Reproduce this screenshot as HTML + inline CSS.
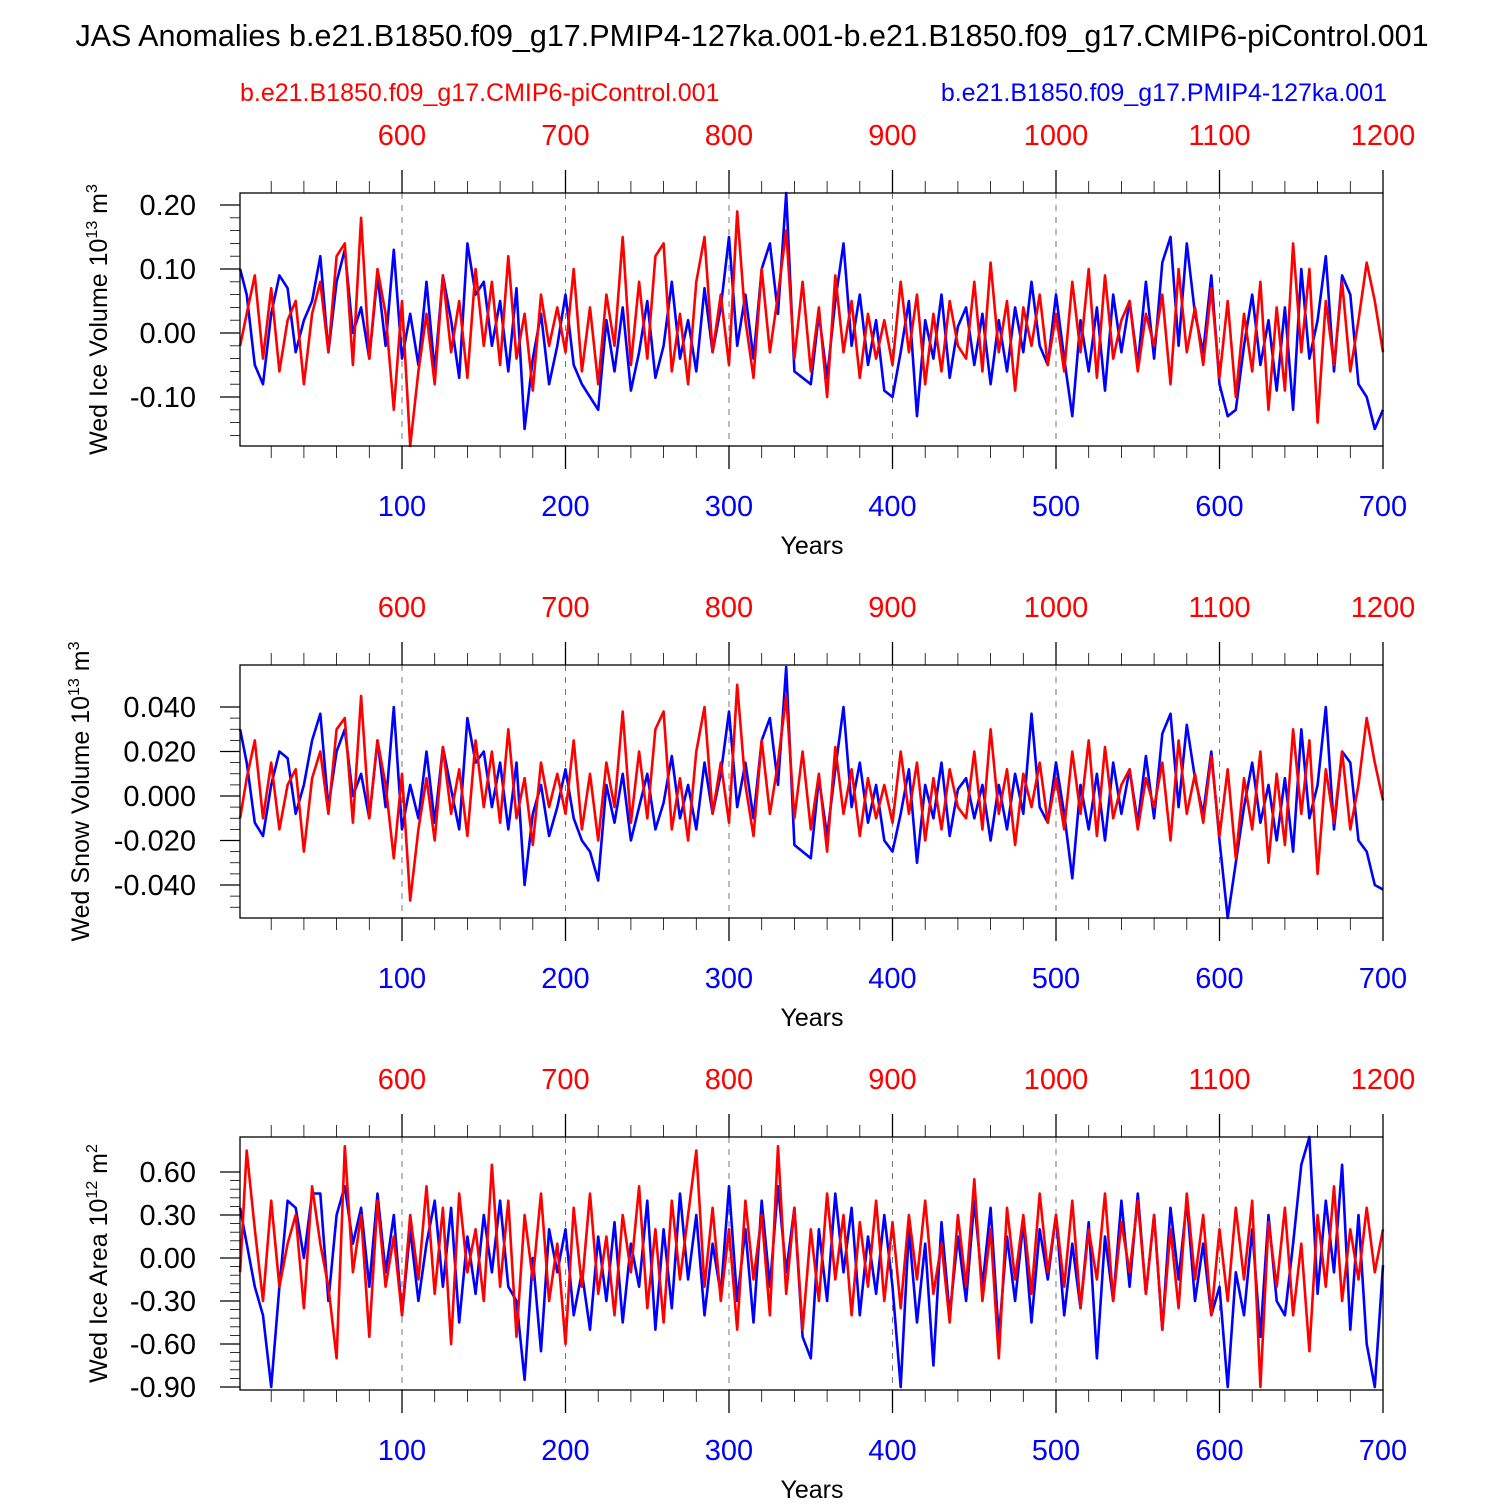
<!DOCTYPE html>
<html><head><meta charset="utf-8"><style>
body{margin:0;background:#fff}
svg{font-family:"Liberation Sans",sans-serif}
</style></head><body>
<svg id="chart" width="1500" height="1500" viewBox="0 0 1500 1500" xmlns="http://www.w3.org/2000/svg">
<text x="752" y="46" font-size="30.5" text-anchor="middle">JAS Anomalies b.e21.B1850.f09_g17.PMIP4-127ka.001-b.e21.B1850.f09_g17.CMIP6-piControl.001</text>
<text x="240" y="101" font-size="25" fill="#f00">b.e21.B1850.f09_g17.CMIP6-piControl.001</text>
<text x="1387" y="101" font-size="25" fill="#00f" text-anchor="end">b.e21.B1850.f09_g17.PMIP4-127ka.001</text>
</svg>
<script>
// values sampled every 5 years (blue axis years 0..700)
const step = 5;
const xTicksBlue = [100,200,300,400,500,600,700];
const xTicksRed = [600,700,800,900,1000,1100,1200];
const volBlue = [10,6,-5,-8,3,9,7,-3,2,5,
12,-3,8,13,0,4,-4,9,-2,13,
-4,3,-5,8,-6,9,2,-7,14,6,
8,-2,5,-6,7,-15,-4,3,-8,-2,
6,-5,-8,-10,-12,2,-6,4,-9,-3,
5,-7,-2,8,-4,2,-6,7,-3,4,
15,-2,6,-4,10,14,3,22,-6,-7,
-8,3,-7,5,14,-2,6,-5,2,-9,
-10,-3,5,-13,2,-4,6,-7,1,4,
-5,3,-8,2,-6,4,-3,8,-2,-5,
6,-4,-13,2,-6,4,-9,6,-3,5,
-5,8,-4,11,15,-2,14,3,-3,9,
-8,-13,-12,-2,6,-5,2,-9,4,-12,
10,-4,2,12,-6,9,6,-8,-10,-15,
-12];
const volRed = [-2,3,9,-4,7,-6,2,5,-8,3,
8,-3,12,14,-5,18,-4,10,3,-12,
5,-18,-6,3,-8,9,-3,5,-7,10,
-2,8,-5,12,-4,3,-9,6,-2,4,
-3,10,-6,4,-8,6,-2,15,-5,8,
-4,12,14,-6,3,-8,8,15,-3,6,
-5,19,2,-7,10,-3,6,16,-4,8,
-6,4,-10,9,-3,5,-7,3,-4,2,
-5,8,-3,6,-8,3,-6,5,-2,-4,
8,-6,11,-3,5,-9,4,-2,6,-5,
3,-6,8,-3,10,-7,9,-4,2,5,
-6,3,-2,6,-8,10,-3,4,-5,7,
-7,5,-10,3,-6,8,-12,4,-9,14,
-3,10,-14,5,-5,8,-6,2,11,5,
-3];
const snowBlue = [30,15,-12,-18,5,20,17,-8,5,25,
37,-5,20,30,0,10,-10,25,-5,40,
-15,5,-10,20,-12,22,3,-15,35,15,
20,-5,15,-15,15,-40,-8,5,-18,-5,
12,-10,-20,-25,-38,5,-12,10,-20,-5,
10,-15,-3,18,-10,5,-15,15,-8,10,
38,-5,15,-10,25,35,5,58,-22,-25,
-28,8,-18,12,40,-5,15,-12,5,-20,
-25,-8,12,-30,5,-10,15,-18,3,8,
-10,5,-20,5,-15,10,-8,37,-5,-12,
15,-8,-37,5,-15,10,-20,15,-8,12,
-12,18,-10,28,37,-5,32,8,-8,20,
-20,-55,-30,-5,15,-12,5,-20,8,-25,
30,-10,5,40,-15,20,15,-20,-25,-40,
-42];
const snowRed = [-10,8,25,-10,15,-15,5,12,-25,8,
20,-8,30,35,-12,45,-10,25,5,-28,
10,-47,-15,8,-20,22,-8,12,-18,25,
-5,20,-12,30,-10,8,-22,15,-5,10,
-8,25,-15,10,-20,15,-5,38,-12,20,
-10,30,38,-15,8,-20,20,40,-8,15,
-12,50,5,-18,25,-8,15,45,-10,20,
-15,10,-25,22,-8,12,-18,8,-10,5,
-12,20,-8,15,-20,8,-15,12,-5,-10,
20,-15,30,-8,12,-22,10,-5,15,-12,
8,-15,20,-8,25,-18,22,-10,5,12,
-15,8,-5,15,-20,25,-8,10,-12,18,
-18,12,-28,8,-15,20,-30,10,-22,30,
-8,25,-35,12,-12,20,-15,5,35,15,
-2];
const areaBlue = [35,10,-20,-40,-90,-20,40,35,0,45,
45,-30,30,50,10,35,-20,45,-10,30,
-40,20,-30,10,40,-20,35,-45,15,-25,
30,-10,40,-20,-30,-85,0,-65,20,-10,
20,-40,-10,-50,15,-30,25,-45,10,-20,
40,-50,20,-35,45,-15,30,-40,10,-25,
50,-30,20,-45,40,-20,50,-10,35,-55,
-70,20,-30,45,-10,35,-40,15,-25,30,
-20,-90,20,-45,10,-75,25,-40,15,-30,
40,-20,35,-55,15,-30,25,-45,20,-15,
30,-40,10,-35,25,-70,15,-30,40,-20,
45,-25,30,-50,35,-15,40,-30,10,-40,
-20,-90,-10,-40,20,-55,30,-30,-40,10,
65,85,-25,40,-10,65,-50,30,-60,-90,
-5];
const areaRed = [-10,75,20,-30,40,-20,10,30,-35,50,
10,-20,-70,78,-10,30,-55,40,-20,15,
-40,30,-15,50,-25,35,-60,45,-10,20,
-30,65,-20,40,-55,30,-15,45,-30,10,
-60,35,-20,45,-25,15,-40,30,-10,50,
-35,20,-45,40,-15,30,75,-20,35,-30,
20,-50,40,-15,30,-40,78,-25,35,-50,
20,-30,45,-15,30,-40,25,-20,40,-30,
25,-35,30,-15,40,-25,10,-45,30,-20,
55,-30,20,-70,35,-15,30,-25,45,-10,
30,-20,40,-35,20,-15,45,-30,25,-10,
40,-25,30,-50,20,-35,45,-15,30,-40,
20,-30,35,-15,40,-90,25,-20,35,-40,
10,-65,30,-20,50,-30,20,-15,35,-10,
20];

const NS='http://www.w3.org/2000/svg';
const svg=document.getElementById('chart');
function mk(tag,attrs,parent){const e=document.createElementNS(NS,tag);for(const k in attrs)e.setAttribute(k,attrs[k]);(parent||svg).appendChild(e);return e;}
const X0=238.5, XS=1.635, PL=240, PR=1383;
const xScale=y=>X0+y*XS;

function panel(cfg){
  const g=mk('g',{});
  
  
  const top=cfg.top, bot=cfg.top+253;
  const yScale=v=>cfg.y0+(cfg.vTop-v)*(cfg.y0b-cfg.y0)/(cfg.vTop-cfg.vBot);
  xTicksBlue.slice(0,6).forEach(t=>{const l=mk('line',{x1:xScale(t),x2:xScale(t),y1:top,y2:bot,stroke:'#777','stroke-width':1,'stroke-dasharray':'6,6'},g);
    });
  [[cfg.blue,'#00f','series-blue'],[cfg.red,'#f00','series-red']].forEach(([arr,col,nm])=>{
    const pts=arr.map((v,i)=>xScale(Math.max(1,i*step)).toFixed(1)+','+Math.max(top,Math.min(bot,yScale(v*cfg.unit))).toFixed(1)).join(' ');
    const p=mk('polyline',{points:pts,fill:'none',stroke:col,'stroke-width':2.6,'stroke-linejoin':'round'},g);
    
  });
  const fr=mk('rect',{x:PL,y:top,width:PR-PL,height:bot-top,fill:'none',stroke:'#000','stroke-width':1.3},g);
  
  for(let t=20;t<=700;t+=20){const maj=t%100===0;const x=xScale(t);
    mk('line',{x1:x,x2:x,y1:top,y2:top-(maj?23:12),stroke:'#000','stroke-width':maj?1.3:0.8},g);
    mk('line',{x1:x,x2:x,y1:bot,y2:bot+(maj?23:12),stroke:'#000','stroke-width':maj?1.3:0.8},g);}
  xTicksBlue.forEach((t,i)=>{
    const a=mk('text',{x:xScale(t),y:bot+70,'font-size':29,fill:'#00f','text-anchor':'middle'},g);a.textContent=t;
    
    const b=mk('text',{x:xScale(t),y:top-48,'font-size':29,fill:'#f00','text-anchor':'middle'},g);b.textContent=xTicksRed[i];
    });
  const xt=mk('text',{x:812,y:bot+108,'font-size':25,'text-anchor':'middle'},g);xt.textContent='Years';
  
  for(let v=cfg.minorStart;v<=cfg.vTop+1e-9;v+=cfg.minor){const y=yScale(v);if(y<top-0.5||y>bot+0.5)continue;
    mk('line',{x1:PL,x2:PL-10,y1:y,y2:y,stroke:'#000','stroke-width':0.8},g);}
  cfg.ticks.forEach(v=>{const y=yScale(v);
    mk('line',{x1:PL,x2:PL-20,y1:y,y2:y,stroke:'#000','stroke-width':1.3},g);
    const t=mk('text',{x:PL-44,y:y+10,'font-size':29,'text-anchor':'end'},g);t.textContent=v.toFixed(cfg.dec);
    });
  const yt=mk('text',{transform:`translate(${cfg.ylx},${(top+bot)/2}) rotate(-90)`,'font-size':25,'text-anchor':'middle'},g);
  yt.innerHTML=cfg.ylabel;
  
}
panel({name:'ice-volume-panel',top:193,blue:volBlue,red:volRed,unit:0.01,y0:205,y0b:397,vTop:0.2,vBot:-0.1,
  ticks:[0.2,0.1,0,-0.1],dec:2,minor:0.02,minorStart:-0.16,ylx:107,
  ylabel:'Wed Ice Volume 10<tspan font-size="16" dy="-10">13</tspan><tspan dy="10"> m</tspan><tspan font-size="16" dy="-10">3</tspan>'});
panel({name:'snow-volume-panel',top:665,blue:snowBlue,red:snowRed,unit:0.001,y0:707,y0b:885,vTop:0.04,vBot:-0.04,
  ticks:[0.04,0.02,0,-0.02,-0.04],dec:3,minor:0.005,minorStart:-0.05,ylx:89,
  ylabel:'Wed Snow Volume 10<tspan font-size="16" dy="-10">13</tspan><tspan dy="10"> m</tspan><tspan font-size="16" dy="-10">3</tspan>'});
panel({name:'ice-area-panel',top:1137,blue:areaBlue,red:areaRed,unit:0.01,y0:1172,y0b:1387,vTop:0.6,vBot:-0.9,
  ticks:[0.6,0.3,0,-0.3,-0.6,-0.9],dec:2,minor:0.06,minorStart:-0.9,ylx:107,
  ylabel:'Wed Ice Area 10<tspan font-size="16" dy="-10">12</tspan><tspan dy="10"> m</tspan><tspan font-size="16" dy="-10">2</tspan>'});
</script>
</body></html>
